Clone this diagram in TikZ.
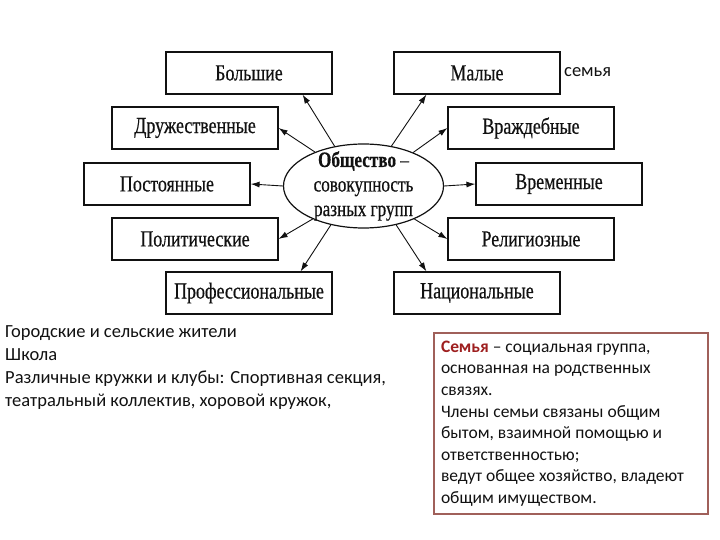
\documentclass[tikz,border=0pt]{standalone}
\usepackage{fontspec}
\setmainfont{Liberation Serif}
\newfontfamily\skan[FakeStretch=0.78,FakeBold=0.5]{Liberation Serif}
\newfontfamily\nota{Carlito}
\usepackage{tikz}
\usetikzlibrary{arrows.meta,shapes.geometric}
\definecolor{tinta}{HTML}{111111}
\definecolor{marco}{HTML}{A0605A}
\definecolor{rojo}{HTML}{9E1F1F}

\begin{document}
\begin{tikzpicture}[x=1pt,y=-1pt,
    grupo/.style={draw=tinta,line width=1.2pt,minimum width=166pt,minimum height=42pt,
                  inner sep=0pt,font=\skan\fontsize{23}{26}\selectfont\color{tinta}},
    texto/.style={font=\nota\fontsize{18.5}{23}\selectfont\color{tinta},align=flush left,inner sep=0pt},
    >={Latex[length=9pt,width=6pt]}]
  \useasboundingbox (0,0) rectangle (720,540);

  \node[draw=tinta,line width=1.2pt,ellipse,minimum width=160pt,minimum height=84pt,
        inner xsep=0pt,inner ysep=-10pt,align=center,
        font=\skan\fontsize{22}{24.5}\selectfont\color{tinta}] (soc) at (363.5,186)
        {\textbf{Общество} –\\совокупность\\разных групп};

  % grupos a la izquierda
  \node[grupo] (big)  at (249,73)  {Большие};
  \node[grupo] (fr)   at (195,128) {Дружественные};
  \node[grupo] (perm) at (167,184) {Постоянные};
  \node[grupo] (pol)  at (195,239) {Политические};
  \node[grupo] (prof) at (249,293) {Профессиональные};
  % grupos a la derecha
  \node[grupo] (small) at (477,73)  {Малые};
  \node[grupo] (host)  at (531,128) {Враждебные};
  \node[grupo] (temp)  at (559,184) {Временные};
  \node[grupo] (rel)   at (531,239) {Религиозные};
  \node[grupo] (nat)   at (477,293) {Национальные};

  \foreach \a/\n in {145/fr.east,180/perm.east,213/pol.east,34/host.west,0/temp.west,327/rel.west}{
    \draw[->,tinta,line width=0.9pt] (soc.\a) -- (\n);
  }
  \draw[->,tinta,line width=0.9pt] (soc.126) -- ([xshift=-30pt]big.south east);
  \draw[->,tinta,line width=0.9pt] (soc.55)  -- ([xshift=33pt]small.south west);
  \draw[->,tinta,line width=0.9pt] (soc.230) -- ([xshift=-32pt]prof.north east);
  \draw[->,tinta,line width=0.9pt] (soc.310) -- ([xshift=33pt]nat.north west);

  \node[texto,anchor=west] (fam) at (564,72) {семья};

  \node[texto,anchor=north west] (lista) at (5,325)
    {Городские и сельские жители\\Школа\\Различные кружки и клубы: Спортивная секция,\\театральный коллектив, хоровой кружок,};

  \node[texto,draw=marco,line width=2pt,anchor=north west,text width=260pt,
        minimum height=181pt,inner xsep=7pt,inner ysep=6pt,
        font=\nota\fontsize{17.5}{21.6}\selectfont\color{tinta}] (def) at (433,332)
    {\textcolor{rojo}{\textbf{Семья}} – социальная группа,\\основанная на родственных\\связях.\\Члены семьи связаны общим\\бытом, взаимной помощью и\\ответственностью;\\ведут общее хозяйство, владеют\\общим имуществом.};
\end{tikzpicture}
\end{document}
